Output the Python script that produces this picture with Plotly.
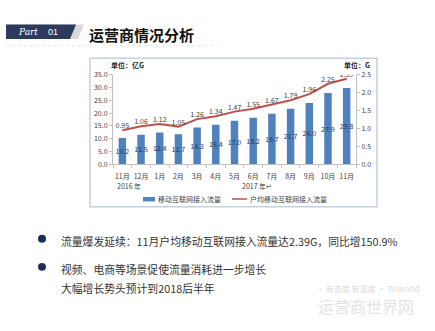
import plotly.graph_objects as go

W, H = 435, 331

months = ["11月", "12月", "1月", "2月", "3月", "4月", "5月", "6月",
          "7月", "8月", "9月", "10月", "11月"]
traffic_total = [10.2, 11.5, 12.4, 11.7, 14.3, 15.4, 17.0, 18.2,
                 19.7, 21.7, 24.0, 27.9, 29.8]          # 亿G
traffic_per_user = [0.95, 1.06, 1.12, 1.05, 1.26, 1.34, 1.47, 1.55,
                    1.67, 1.79, 1.96, 2.25, 2.39]        # G
left_ticks = [0, 5, 10, 15, 20, 25, 30, 35]
right_ticks = [0, 0.5, 1.0, 1.5, 2.0, 2.5]
bar_name = "移动互联网接入流量"
line_name = "户均移动互联网接入流量"

CJK = "Noto Sans CJK SC"
BAR_C = "#4F81BD"
LINE_C = "#C0504D"
NAVY = "#1F2B57"


def px(x):
    return x / W


def py(y):
    return 1 - y / H


def label(text, x, y, size, color="#404040", xanchor="left", family=CJK):
    return dict(text=text, x=px(x), y=py(y), xref="paper", yref="paper",
                xanchor=xanchor, yanchor="middle", showarrow=False,
                font=dict(size=size, color=color, family=family))


xs = list(range(len(months)))

fig = go.Figure()
fig.add_trace(go.Bar(
    x=xs, y=traffic_total, name=bar_name, marker_color=BAR_C,
    marker_line_width=0, width=0.4,
    text=[f"{v:.1f}" for v in traffic_total], textposition="inside",
    insidetextanchor="middle", constraintext="none", textangle=0,
    textfont=dict(size=7, color="#1F3864", family=CJK),
    showlegend=False,
))
fig.add_trace(go.Scatter(
    x=xs, y=traffic_per_user, name=line_name, yaxis="y2",
    mode="lines+text", line=dict(color=LINE_C, width=2),
    text=[f"{v:.2f}" for v in traffic_per_user], textposition="top center",
    textfont=dict(size=7, color="#404040", family=CJK),
    showlegend=False,
))

axis_font = dict(size=7, color="#404040", family=CJK)
fig.update_layout(
    width=W, height=H, margin=dict(l=0, r=0, t=0, b=0),
    paper_bgcolor="white", plot_bgcolor="rgba(0,0,0,0)",
    font=dict(family=CJK),
    xaxis=dict(
        domain=[px(113), px(356)], range=[-0.5, len(months) - 0.5],
        tickvals=xs, ticktext=months, ticks="", showgrid=False,
        showline=True, linecolor="#BFBFBF", linewidth=1, zeroline=False,
        tickfont=axis_font, ticklabelstandoff=6,
        minor=dict(tickvals=[i - 0.5 for i in range(len(months) + 1)],
                   ticks="outside", ticklen=3, tickcolor="#BFBFBF"),
    ),
    yaxis=dict(
        domain=[py(163), py(71)], range=[0, 35], tickvals=left_ticks,
        tickformat=".1f", showgrid=False, zeroline=False,
        showline=True, linecolor="#BFBFBF", ticks="outside", ticklen=3,
        tickcolor="#BFBFBF", tickfont=axis_font,
    ),
    yaxis2=dict(
        overlaying="y", side="right", range=[0, 2.5], tickvals=right_ticks,
        tickformat=".1f", showgrid=False, zeroline=False,
        showline=True, linecolor="#BFBFBF", ticks="outside", ticklen=3,
        tickcolor="#BFBFBF", tickfont=axis_font,
    ),
)

shapes = []
annotations = []

# header band
shapes.append(dict(type="path", xref="paper", yref="paper",
                   path=f"M{px(6)},{py(19)} L{px(84)},{py(19)} L{px(78)},{py(34)} L{px(6)},{py(34)} Z",
                   fillcolor="#D9D9D9", line_width=0, layer="below"))
shapes.append(dict(type="path", xref="paper", yref="paper",
                   path=f"M{px(6)},{py(19)} L{px(76)},{py(19)} L{px(70)},{py(34)} L{px(6)},{py(34)} Z",
                   fillcolor="#2E3A5C", line_width=0, layer="below"))
shapes.append(dict(type="line", xref="paper", yref="paper",
                   x0=px(6), x1=px(217), y0=py(41), y1=py(41),
                   line=dict(color="#E6E6E6", width=1, dash="dot")))
annotations.append(label("<i>Part</i>", 16, 27, 9, "white", family="DejaVu Serif"))
annotations.append(label("01", 46, 27, 9, "white", family="Liberation Sans"))
annotations.append(label("<b>运营商情况分析</b>", 87, 29, 15, "#111111"))

# chart frame
shapes.append(dict(type="rect", xref="paper", yref="paper",
                   x0=px(90), x1=px(377), y0=py(207), y1=py(54),
                   line=dict(color="#C3D0DE", width=1.5), fillcolor="white", layer="below"))

# units
annotations.append(label("<b>单位：亿G</b>", 109, 61, 7, "#222222"))
annotations.append(label("<b>单位：G</b>", 372, 61, 7, "#222222", xanchor="right"))

# year labels
annotations.append(label("2016 年", 115, 186, 7))
annotations.append(label("2017 年↵", 240, 186, 7))

# legend
shapes.append(dict(type="rect", xref="paper", yref="paper",
                   x0=px(143), x1=px(155), y0=py(201.5), y1=py(197),
                   fillcolor=BAR_C, line_width=0))
annotations.append(label(bar_name, 156, 199.5, 7))
shapes.append(dict(type="line", xref="paper", yref="paper",
                   x0=px(232), x1=px(247), y0=py(199), y1=py(199),
                   line=dict(color=LINE_C, width=1.5)))
annotations.append(label(line_name, 248, 199.5, 7))

# bullet points
bullets = [
    (240, 242, "流量爆发延续：11月户均移动互联网接入流量达2.39G，同比增150.9%"),
    (269, 271, "视频、电商等场景促使流量消耗进一步增长"),
]
for by, ty, txt in bullets:
    shapes.append(dict(type="circle", xref="paper", yref="paper",
                       x0=px(38), x1=px(46), y0=py(by + 4), y1=py(by - 4),
                       fillcolor=NAVY, line_width=0))
    annotations.append(label(txt, 59, ty, 10.8, "#333333"))
annotations.append(label("大幅增长势头预计到2018后半年", 59, 291, 10.8, "#333333"))

# faint site mark
annotations.append(label("· 有态度 有温度 · Telworld", 422, 291, 8, "#DADADA", xanchor="right"))
annotations.append(label("运营商世界网", 416, 309, 16, "#E3E3E3", xanchor="right"))

fig.update_layout(shapes=shapes, annotations=annotations)
fig.write_html("out.html")
